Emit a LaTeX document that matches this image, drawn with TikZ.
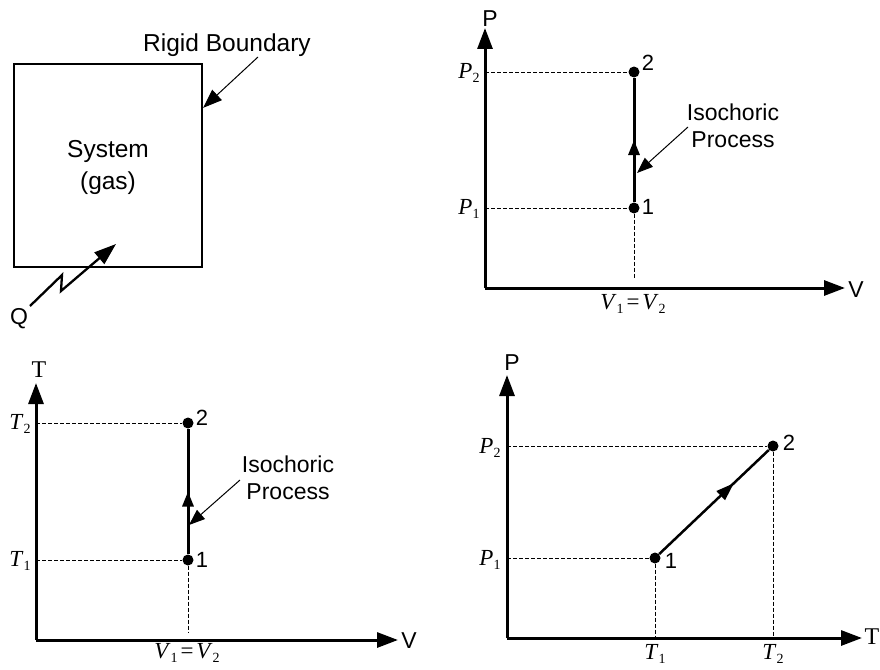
\documentclass[tikz,border=0pt]{standalone}
\usepackage{fontspec}
\setmainfont{Liberation Sans}
\newfontfamily\serifface{Liberation Serif}
\usetikzlibrary{arrows.meta,decorations.markings}
% italic symbol with upright subscript, as in the plots
\newcommand{\symsub}[2]{{\serifface\fontsize{23}{23}\selectfont\itshape #1\/}%
  \raisebox{-4.5pt}{\serifface\fontsize{14}{14}\selectfont #2}}
\newcommand{\symeq}{\;{\serifface\fontsize{23}{23}\selectfont=}\;}
\tikzset{
  axis/.style={line width=3pt,-{Triangle[length=21pt,width=15pt]}},
  guide/.style={line width=0.8pt,dash pattern=on 4pt off 2pt},
  dot/.style={circle,fill,inner sep=0pt,minimum size=11pt},
  pointer/.style={line width=1pt,-{Triangle[length=16pt,width=12pt]}},
  proc/.style={line width=3pt,postaction={decorate},
    decoration={markings,mark=at position 0.5 with
      {\arrow{Triangle[length=15pt,width=11pt]}}}},
  slope/.style={line width=2.5pt,postaction={decorate},
    decoration={markings,mark=at position 0.68 with
      {\arrow{Triangle[length=18pt,width=12pt]}}}},
  txt/.style={inner sep=0pt,font=\fontsize{23}{27}\selectfont,align=center},
  num/.style={inner sep=0pt,font=\fontsize{22}{22}\selectfont},
  axlab/.style={inner sep=0pt,font=\fontsize{23}{23}\selectfont},
  seriflab/.style={inner sep=0pt,font=\serifface\fontsize{24}{24}\selectfont},
  sym/.style={inner sep=0pt},
}
\begin{document}
\begin{tikzpicture}[x=1pt,y=-1pt]
  \useasboundingbox (0,0) rectangle (880,669);

  % --- rigid system with heat input
  \node[draw,line width=2.3pt,minimum width=188pt,minimum height=203pt,
        inner sep=0pt] (sys) at (108,165.5) {};
  \node[txt,font=\fontsize{24.5}{32}\selectfont] (systxt) at (108,167)
        {System\\(gas)};
  \node[txt,font=\fontsize{24.5}{32}\selectfont,anchor=base west] (rigid)
        at (143,52) {Rigid Boundary};
  \coordinate (rigidtail) at (258,57);
  \path (sys.north east) ++(0,45) coordinate (rigidhit);
  \draw[pointer,-{Triangle[length=19pt,width=14pt]}] (rigidtail) -- (rigidhit);
  \node[axlab] (Q) at (19,319) {Q};
  \coordinate (qtail) at (30,306);
  \coordinate (qhead) at (116,244);
  \draw[line width=2.3pt,-{Triangle[length=22pt,width=15pt]}]
        (qtail) -- (62,275) -- (61,291) -- (qhead);

  % --- P-V diagram
  \coordinate (o2) at (485,288);
  \coordinate (pv-y) at (485,28);
  \coordinate (pv-x) at (845,288);
  \draw[axis] (o2) -- (pv-y);
  \draw[axis] (o2) -- (pv-x);
  \node[axlab] (pvP) at (490,19) {P};
  \node[axlab] (pvV) at (856,290) {V};
  \node[dot] (a1) at (634,208) {};
  \node[dot] (a2) at (634,72) {};
  \draw[guide] (o2 |- a2) -- (a2);
  \draw[guide] (o2 |- a1) -- (a1);
  \draw[guide] (a1) -- ([yshift=10pt]a1 |- o2);
  \draw[proc] (a1) -- (a2);
  \node[num] (a1n) at (648,207) {1};
  \node[num] (a2n) at (648,63) {2};
  \node[sym] (pvP2) at (469,73) {\symsub{P}{2}};
  \node[sym] (pvP1) at (469,209) {\symsub{P}{1}};
  \node[sym] (pvV) at (633,304) {\symsub{V}{1}\symeq\symsub{V}{2}};
  \node[txt] (pviso) at (733,126) {Isochoric\\Process};
  \coordinate (pvtail) at (688,127);
  \path (a1) ++(3,-35) coordinate (pvhit);
  \draw[pointer] (pvtail) -- (pvhit);

  % --- T-V diagram
  \coordinate (o3) at (36,640);
  \coordinate (tv-y) at (36,383);
  \coordinate (tv-x) at (398,640);
  \draw[axis] (o3) -- (tv-y);
  \draw[axis] (o3) -- (tv-x);
  \node[seriflab] (tvT) at (39,370) {T};
  \node[axlab] (tvV) at (409,641) {V};
  \node[dot] (b1) at (188,560) {};
  \node[dot] (b2) at (188,423) {};
  \draw[guide] (o3 |- b2) -- (b2);
  \draw[guide] (o3 |- b1) -- (b1);
  \draw[guide] (b1) -- ([yshift=8pt]b1 |- o3);
  \draw[proc] (b1) -- (b2);
  \node[num] (b1n) at (202,560) {1};
  \node[num] (b2n) at (202,418) {2};
  \node[sym] (tvT2) at (20,424) {\symsub{T}{2}};
  \node[sym] (tvT1) at (20,561) {\symsub{T}{1}};
  \node[sym] (tvV) at (187,653) {\symsub{V}{1}\symeq\symsub{V}{2}};
  \node[txt] (tviso) at (288,478) {Isochoric\\Process};
  \coordinate (tvtail) at (240,480);
  \path (b1) ++(1,-35) coordinate (tvhit);
  \draw[pointer] (tvtail) -- (tvhit);

  % --- P-T diagram
  \coordinate (o4) at (507,638);
  \coordinate (pt-y) at (507,375);
  \coordinate (pt-x) at (862,638);
  \draw[axis] (o4) -- (pt-y);
  \draw[axis] (o4) -- (pt-x);
  \node[axlab] (ptP) at (512,363) {P};
  \node[seriflab] (ptT) at (872,637) {T};
  \node[dot] (c1) at (655,558) {};
  \node[dot] (c2) at (773,446) {};
  \draw[guide] (o4 |- c2) -- (c2);
  \draw[guide] (o4 |- c1) -- (c1);
  \draw[guide] (c1) -- (c1 |- o4);
  \draw[guide] (c2) -- (c2 |- o4);
  \draw[slope] (c1) -- (c2);
  \node[num] (c1n) at (671,561) {1};
  \node[num] (c2n) at (789,443) {2};
  \node[sym] (ptP2) at (490,448) {\symsub{P}{2}};
  \node[sym] (ptP1) at (490,560) {\symsub{P}{1}};
  \node[sym] (ptT1) at (655,654) {\symsub{T}{1}};
  \node[sym] (ptT2) at (773,654) {\symsub{T}{2}};
\end{tikzpicture}
\end{document}
